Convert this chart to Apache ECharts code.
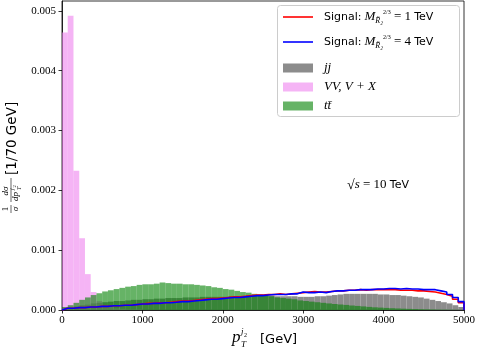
<!DOCTYPE html>
<html>
<head>
<meta charset="utf-8">
<script src="https://cdn.jsdelivr.net/npm/echarts@6/dist/echarts.min.js"></script>
<style>
  html, body { margin: 0; padding: 0; background: #fff; }
  #chart { width: 478px; height: 349px; }
</style>
</head>
<body>
<div id="chart"></div>
<script>
  // histogram binning: 70 bins over 0..5000 GeV
  var binCount = 70;
  var xMax = 5000;
  var xTicks = [0, 1000, 2000, 3000, 4000, 5000];
  var yTicks = [0, 0.001, 0.002, 0.003, 0.004, 0.005];
  var yMax = 0.005166;

  // jj background
  var jj = [
    0.00002, 0.00004, 0.00006, 0.00008, 0.00009, 0.00011, 0.00012, 0.00013, 0.00014, 0.00015,
    0.00015, 0.00016, 0.00017, 0.00017, 0.00018, 0.00018, 0.00019, 0.00019, 0.00020, 0.00020,
    0.00020, 0.00021, 0.00021, 0.00021, 0.00022, 0.00022, 0.00022, 0.00022, 0.00022, 0.00023,
    0.00023, 0.00023, 0.00024, 0.00024, 0.00024, 0.00024, 0.00024, 0.00023, 0.00023, 0.00023,
    0.00023, 0.00022, 0.00022, 0.00022, 0.00023, 0.00023, 0.00024, 0.00025, 0.00026, 0.00027,
    0.00027, 0.00027, 0.00027, 0.00027, 0.00027, 0.00026, 0.00026, 0.00025, 0.00025, 0.00024,
    0.00023, 0.00022, 0.00021, 0.00019, 0.00017, 0.00015, 0.00013, 0.00011, 0.00008, 0.00005
  ];
  // VV, V+X background
  var vvx = [
    0.00464, 0.00492, 0.00233, 0.00120, 0.00060, 0.00030, 0.00015, 0.00008, 0.00005, 0.00003,
    0.00002, 0.00001, 0.00001, 0.00001, 0, 0, 0, 0, 0, 0,
    0, 0, 0, 0, 0, 0, 0, 0, 0, 0,
    0, 0, 0, 0, 0, 0, 0, 0, 0, 0,
    0, 0, 0, 0, 0, 0, 0, 0, 0, 0,
    0, 0, 0, 0, 0, 0, 0, 0, 0, 0,
    0, 0, 0, 0, 0, 0, 0, 0, 0, 0
  ];
  // ttbar background
  var ttbar = [
    0.00005, 0.00008, 0.00012, 0.00017, 0.00021, 0.00025, 0.00028, 0.00031, 0.00033, 0.00035,
    0.00037, 0.00039, 0.00040, 0.00042, 0.00043, 0.00043, 0.00044, 0.00046, 0.00045, 0.00044,
    0.00044, 0.00043, 0.00043, 0.00042, 0.00041, 0.00040, 0.00038, 0.00037, 0.00035, 0.00034,
    0.00032, 0.00030, 0.00029, 0.00027, 0.00026, 0.00024, 0.00023, 0.00021, 0.00020, 0.00019,
    0.00018, 0.00016, 0.00015, 0.00014, 0.00013, 0.00012, 0.00011, 0.00010, 0.000092, 0.000085,
    0.000075, 0.000068, 0.00006, 0.000052, 0.000045, 0.00004, 0.000035, 0.00003, 0.000026, 0.000022,
    0.000019, 0.000016, 0.000013, 0.000011, 0.000009, 0.000007, 0.000006, 0.000005, 0.000004, 0.000003
  ];
  // signal, M = 1 TeV
  var sig1 = [
    0.00003, 0.00003, 0.00004, 0.00004, 0.00005, 0.00005, 0.00006, 0.00006, 0.00007, 0.00007,
    0.00008, 0.00008, 0.00009, 0.00010, 0.00011, 0.00011, 0.00012, 0.00012, 0.00013, 0.00014,
    0.00015, 0.00015, 0.00016, 0.00017, 0.00018, 0.00019, 0.00019, 0.00020, 0.00021, 0.00022,
    0.00022, 0.00023, 0.00024, 0.00025, 0.00025, 0.00026, 0.00026, 0.00027, 0.00026, 0.00027,
    0.00028, 0.00029, 0.00030, 0.00031, 0.00030, 0.00030, 0.00031, 0.00032, 0.00032, 0.00033,
    0.00033, 0.00034, 0.00033, 0.00034, 0.00034, 0.00034, 0.00034, 0.00034, 0.00033, 0.00033,
    0.00033, 0.00032, 0.00032, 0.00031, 0.00030, 0.00028, 0.00026, 0.00023, 0.00018, 0.00012
  ];
  // signal, M = 4 TeV
  var sig4 = [
    0.00003, 0.00003, 0.00004, 0.00004, 0.00005, 0.00005, 0.00006, 0.00006, 0.00007, 0.00007,
    0.00008, 0.00008, 0.00009, 0.00010, 0.00010, 0.00011, 0.00011, 0.00012, 0.00012, 0.00013,
    0.00014, 0.00014, 0.00015, 0.00016, 0.00017, 0.00018, 0.00018, 0.00019, 0.00020, 0.00021,
    0.00021, 0.00022, 0.00023, 0.00024, 0.00024, 0.00025, 0.00026, 0.00026, 0.00026, 0.00027,
    0.00027, 0.00030, 0.00029, 0.00029, 0.00030, 0.00029, 0.00031, 0.00032, 0.00032, 0.00033,
    0.00033, 0.00034, 0.00034, 0.00034, 0.00035, 0.00035, 0.00036, 0.00036, 0.00035, 0.00036,
    0.00035, 0.00035, 0.00034, 0.00034, 0.00034, 0.00032, 0.00030, 0.00026, 0.00021, 0.00014
  ];

  var binWidth = xMax / binCount;
  var binLabels = jj.map(function (v, i) { return String(i); });

  // step outline of a histogram: left edges, then close at the right edge
  function stepData(vals) {
    var pts = [[0, 0]];
    vals.forEach(function (v, i) { pts.push([i * binWidth, v]); });
    pts.push([xMax, vals[vals.length - 1]]);
    pts.push([xMax, 0]);
    return pts;
  }

  var serif = 'Liberation Serif';
  var sans = 'DejaVu Sans';

  var legendRich = {
    s: {fontFamily: sans, fontSize: 11, padding: [0, 0, 0, 6], lineHeight: 16},
    s2: {fontFamily: sans, fontSize: 11, lineHeight: 16},
    m: {fontFamily: serif, fontStyle: 'italic', fontSize: 13, padding: [0, 0, 0, 3], lineHeight: 16},
    sb: {fontFamily: serif, fontStyle: 'italic', fontSize: 8, lineHeight: 9, verticalAlign: 'bottom'},
    sp: {fontFamily: serif, fontSize: 6, lineHeight: 9, verticalAlign: 'top'},
    e: {fontFamily: serif, fontSize: 13, lineHeight: 16},
    it: {fontFamily: serif, fontStyle: 'italic', fontSize: 13, padding: [0, 0, 0, 6], lineHeight: 14}
  };
  var legendText = {
    sig1: '{s|Signal:}{m|M}{sb|R̃₂}{sp|2/3}{e| = 1 }{s2|TeV}',
    sig4: '{s|Signal:}{m|M}{sb|R̃₂}{sp|2/3}{e| = 4 }{s2|TeV}',
    jj: '{it|jj}',
    vv: '{it|VV, V + X}',
    tt: '{it|tt̄}'
  };

  var myChart = echarts.init(document.getElementById('chart'));
  myChart.setOption({
    animation: false,
    grid: {
      left: 62, right: 13, top: 1, bottom: 39,
      show: true, borderColor: '#000', borderWidth: 0.8, backgroundColor: 'transparent'
    },
    legend: [
      {
        data: ['sig1', 'sig4'],
        orient: 'vertical', left: 283, top: 9, padding: 0,
        icon: 'rect', itemWidth: 30, itemHeight: 1.6, itemGap: 9,
        formatter: function (n) { return legendText[n]; },
        textStyle: {color: '#000', lineHeight: 16, rich: legendRich}
      },
      {
        data: ['jj', 'vv', 'tt'],
        orient: 'vertical', left: 283, top: 61, padding: 0,
        icon: 'rect', itemWidth: 30, itemHeight: 9, itemGap: 5,
        formatter: function (n) { return legendText[n]; },
        textStyle: {color: '#000', lineHeight: 14, rich: legendRich}
      }
    ],
    xAxis: [
      {
        type: 'value', min: 0, max: xMax, interval: 1000,
        axisLine: {lineStyle: {color: '#000', width: 0.8}},
        axisTick: {length: 3.5, lineStyle: {color: '#000', width: 0.8}},
        axisLabel: {
          fontFamily: serif, fontSize: 11, color: '#000', margin: 5,
          formatter: function (v) { return String(v); }
        },
        splitLine: {show: false}
      },
      {
        type: 'category', data: binLabels, show: false
      }
    ],
    yAxis: {
      type: 'value', min: 0, max: yMax,
      axisLine: {show: true, lineStyle: {color: '#000', width: 0.8}},
      axisTick: {show: true, length: 3.5, customValues: yTicks, lineStyle: {color: '#000', width: 0.8}},
      axisLabel: {
        fontFamily: serif, fontSize: 11, color: '#000', margin: 6,
        customValues: yTicks,
        formatter: function (v) { return v.toFixed(3); }
      },
      splitLine: {show: false}
    },
    series: [
      {
        name: 'jj', type: 'bar', xAxisIndex: 1, data: jj,
        barCategoryGap: '0%', barGap: '-100%',
        itemStyle: {color: 'rgba(128,128,128,0.9)'}
      },
      {
        name: 'vv', type: 'bar', xAxisIndex: 1, data: vvx,
        barCategoryGap: '0%', barGap: '-100%',
        itemStyle: {color: 'rgba(238,130,238,0.6)'}
      },
      {
        name: 'tt', type: 'bar', xAxisIndex: 1, data: ttbar,
        barCategoryGap: '0%', barGap: '-100%',
        itemStyle: {color: 'rgba(0,128,0,0.6)'}
      },
      {
        name: 'sig1', type: 'line', xAxisIndex: 0, data: stepData(sig1),
        step: 'end', symbol: 'none', z: 3,
        itemStyle: {color: '#ff0000'},
        lineStyle: {color: '#ff0000', width: 1.6}
      },
      {
        name: 'sig4', type: 'line', xAxisIndex: 0, data: stepData(sig4),
        step: 'end', symbol: 'none', z: 4,
        itemStyle: {color: '#0000ff'},
        lineStyle: {color: '#0000ff', width: 1.6}
      }
    ],
    graphic: [
      // legend frame
      {
        type: 'rect', z: 1,
        shape: {x: 277.5, y: 5.5, width: 182, height: 111, r: 3},
        style: {fill: 'rgba(255,255,255,0.8)', stroke: '#cccccc', lineWidth: 1}
      },
      // sqrt(s) annotation
      {
        type: 'text', left: 347, top: 178, z: 5,
        style: {
          text: '{r|√}{i|s}{e| = 10 }{t|TeV}',
          rich: {
            r: {fontFamily: serif, fontSize: 14},
            i: {fontFamily: serif, fontStyle: 'italic', fontSize: 13},
            e: {fontFamily: serif, fontSize: 13},
            t: {fontFamily: sans, fontSize: 11}
          }
        }
      },
      // x axis title
      {
        type: 'group', x: 232, y: 340, z: 5,
        children: [
          {type: 'text', x: 0, y: -2, style: {text: 'p', fontFamily: serif, fontStyle: 'italic', fontSize: 17, verticalAlign: 'middle'}},
          {type: 'text', x: 9, y: 5, style: {text: 'T', fontFamily: serif, fontStyle: 'italic', fontSize: 9, verticalAlign: 'middle'}},
          {type: 'text', x: 9, y: -8, style: {text: 'j', fontFamily: serif, fontStyle: 'italic', fontSize: 9, verticalAlign: 'middle'}},
          {type: 'text', x: 12, y: -5, style: {text: '2', fontFamily: serif, fontSize: 6, verticalAlign: 'middle'}},
          {type: 'text', x: 28, y: 0, style: {text: '[GeV]', fontFamily: sans, fontSize: 13, verticalAlign: 'middle'}}
        ]
      },
      // y axis title, rotated
      {
        type: 'group', x: 11, y: 213, rotation: Math.PI / 2, z: 5,
        children: [
          {type: 'text', x: 4, y: -5, style: {text: '1', fontFamily: serif, fontSize: 9, align: 'center', verticalAlign: 'middle'}},
          {type: 'line', shape: {x1: 0, y1: 0, x2: 8, y2: 0}, style: {stroke: '#000', lineWidth: 0.6}},
          {type: 'text', x: 4, y: 5, style: {text: 'σ', fontFamily: serif, fontStyle: 'italic', fontSize: 9, align: 'center', verticalAlign: 'middle'}},
          {type: 'text', x: 22, y: -5, style: {text: 'dσ', fontFamily: serif, fontStyle: 'italic', fontSize: 9, align: 'center', verticalAlign: 'middle'}},
          {type: 'line', shape: {x1: 11, y1: 0, x2: 35, y2: 0}, style: {stroke: '#000', lineWidth: 0.6}},
          {type: 'text', x: 12, y: 5, style: {text: 'dp', fontFamily: serif, fontStyle: 'italic', fontSize: 9, verticalAlign: 'middle'}},
          {type: 'text', x: 23, y: 8, style: {text: 'T', fontFamily: serif, fontStyle: 'italic', fontSize: 6, verticalAlign: 'middle'}},
          {type: 'text', x: 23, y: 1.5, style: {text: 'j', fontFamily: serif, fontStyle: 'italic', fontSize: 6, verticalAlign: 'middle'}},
          {type: 'text', x: 25.5, y: 3.5, style: {text: '2', fontFamily: serif, fontSize: 4.5, verticalAlign: 'middle'}},
          {type: 'text', x: 38, y: 1, style: {text: '[1/70 GeV]', fontFamily: sans, fontSize: 13.5, verticalAlign: 'middle'}}
        ]
      }
    ]
  });
</script>
</body>
</html>
